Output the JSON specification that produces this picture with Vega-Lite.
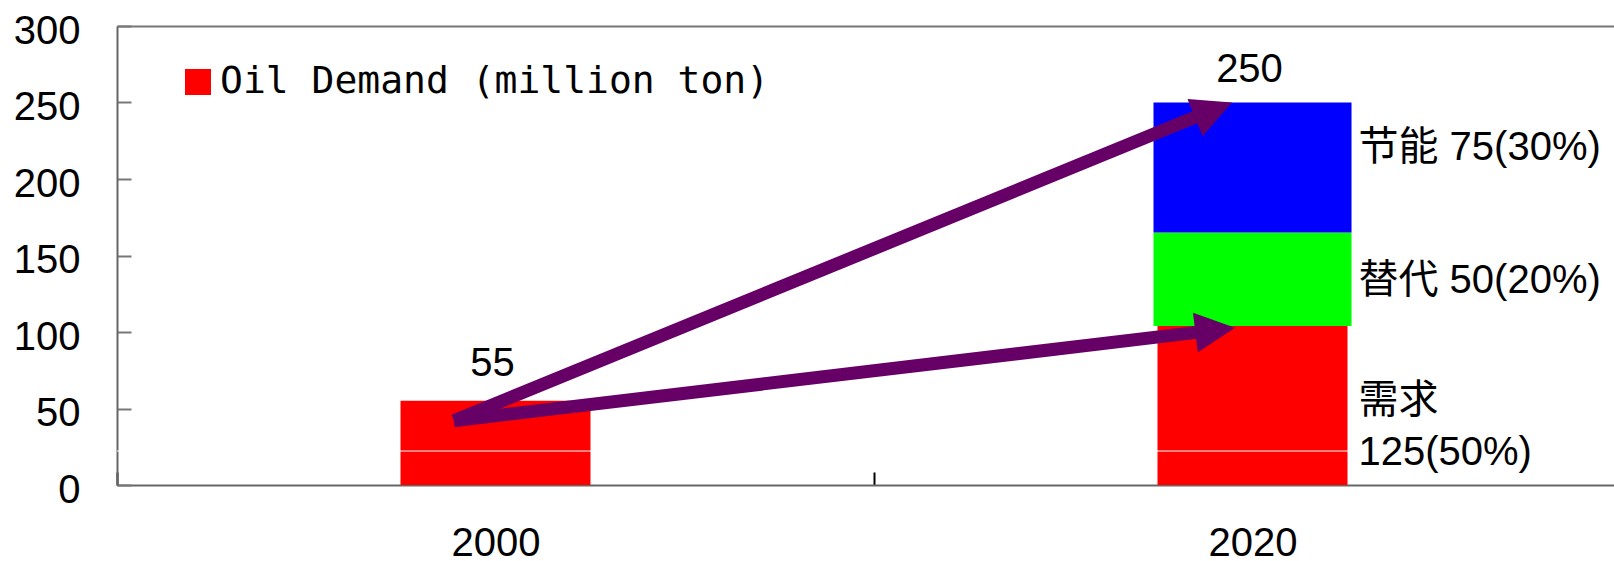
{
  "$schema": "https://vega.github.io/schema/vega-lite/v6.json",
  "autosize": "none",
  "padding": {"left": 117, "top": 26, "right": 0, "bottom": 76},
  "width": 1497,
  "height": 459,
  "background": "white",
  "config": {"view": {"stroke": null}, "axis": {"zindex": 1}},
  "datasets": {
    "bars": [
      {"year": "2000", "series": "Oil Demand (million ton)", "lo": 0, "hi": 55},
      {"year": "2020", "series": "Oil Demand (million ton)", "lo": 0, "hi": 104},
      {"year": "2020", "series": "替代", "lo": 104, "hi": 165},
      {"year": "2020", "series": "节能", "lo": 165, "hi": 250}
    ],
    "labels": [
      {"year": "2000", "ly": 71.2, "txt": "55", "grp": "top"},
      {"year": "2020", "ly": 263.4, "txt": "250", "grp": "top"},
      {"year": "2020", "ly": 212.4, "txt": "节能 75(30%)", "grp": "side"},
      {"year": "2020", "ly": 125.5, "txt": "替代 50(20%)", "grp": "side"},
      {"year": "2020", "ly": 47.1, "txt": "需求", "grp": "side"},
      {"year": "2020", "ly": 13.1, "txt": "125(50%)", "grp": "side"}
    ],
    "arrows": [
      {"arrow": "a", "ax": 0.445, "ay": 42, "part": "line"},
      {"arrow": "a", "ax": 1.436, "ay": 242.8, "part": "line"},
      {"arrow": "a", "ax": 1.473, "ay": 250, "part": "tip"},
      {"arrow": "b", "ax": 0.445, "ay": 42, "part": "line"},
      {"arrow": "b", "ax": 1.437, "ay": 100.4, "part": "line"},
      {"arrow": "b", "ax": 1.477, "ay": 102.7, "part": "tip"}
    ]
  },
  "layer": [
    {
      "layer": [
        {
          "data": {"name": "bars"},
          "transform": [{"filter": "datum.series === 'Oil Demand (million ton)'"}],
          "mark": {"type": "bar", "width": {"band": 0.251}, "strokeWidth": 0},
          "encoding": {
            "x": {
              "field": "year", "type": "nominal",
              "scale": {"range": [0, 1514], "paddingInner": 0, "paddingOuter": 0},
              "axis": {
                "title": null, "labelAngle": 0, "labelFont": "Liberation Sans", "labelFontSize": 40,
                "labelColor": "black", "labelBaseline": "alphabetic", "labelPadding": 83,
                "tickBand": "extent", "tickSize": -13, "tickColor": "black", "tickWidth": 2,
                "domainColor": "#666666", "domainWidth": 2, "grid": false
              }
            },
            "y": {
              "field": "hi", "type": "quantitative",
              "scale": {"domain": [0, 300], "nice": false},
              "axis": {
                "title": null, "values": [0, 50, 100, 150, 200, 250, 300], "grid": false,
                "tickSize": -14, "tickColor": "#777777", "tickWidth": 2,
                "domainColor": "#666666", "domainWidth": 2,
                "labelFont": "Liberation Sans", "labelFontSize": 40, "labelColor": "black",
                "labelPadding": 51, "labelBaseline": "middle", "labelOffset": 5
              }
            },
            "y2": {"field": "lo"},
            "color": {
              "field": "series", "type": "nominal",
              "scale": {"domain": ["Oil Demand (million ton)", "替代", "节能"], "range": ["#ff0000", "#00ff00", "#0000ff"]},
              "legend": {
                "values": ["Oil Demand (million ton)"], "orient": "none", "legendX": 62, "legendY": 37,
                "title": null, "symbolType": "square", "symbolSize": 676, "symbolStrokeWidth": 0,
                "symbolOpacity": 1, "labelFont": "DejaVu Sans Mono", "labelFontSize": 38,
                "labelColor": "black", "labelOffset": 3, "padding": 0, "labelLimit": 0
              }
            }
          }
        },
        {
          "data": {"name": "bars"},
          "transform": [{"filter": "datum.series !== 'Oil Demand (million ton)'"}],
          "mark": {"type": "bar", "width": {"band": 0.2616}, "strokeWidth": 0},
          "encoding": {
            "x": {"field": "year", "type": "nominal"},
            "y": {"field": "hi", "type": "quantitative", "scale": {"domain": [0, 300], "nice": false}},
            "y2": {"field": "lo"},
            "color": {"field": "series", "type": "nominal"}
          }
        },
        {
          "data": {"values": [{"v": 22.2}]},
          "mark": {"type": "rule", "color": "white", "strokeWidth": 1},
          "encoding": {"y": {"field": "v", "type": "quantitative", "scale": {"domain": [0, 300], "nice": false}}}
        },
        {
          "data": {"name": "labels"},
          "transform": [{"filter": "datum.grp === 'top'"}],
          "mark": {"type": "text", "align": "center", "baseline": "alphabetic", "dx": -3, "font": "Liberation Sans", "fontSize": 40, "color": "black"},
          "encoding": {
            "x": {"field": "year", "type": "nominal"},
            "y": {"field": "ly", "type": "quantitative", "scale": {"domain": [0, 300], "nice": false}},
            "text": {"field": "txt"}
          }
        },
        {
          "data": {"name": "labels"},
          "transform": [{"filter": "datum.grp === 'side'"}],
          "mark": {"type": "text", "align": "left", "baseline": "alphabetic", "dx": 106, "font": "Liberation Sans, Noto Sans CJK SC", "fontSize": 40, "color": "black"},
          "encoding": {
            "x": {"field": "year", "type": "nominal"},
            "y": {"field": "ly", "type": "quantitative", "scale": {"domain": [0, 300], "nice": false}},
            "text": {"field": "txt"}
          }
        }
      ]
    },
    {
      "data": {"name": "arrows"},
      "layer": [
        {
          "transform": [{"filter": "datum.part === 'line'"}],
          "mark": {"type": "line", "color": "#660066", "strokeWidth": 13, "strokeCap": "butt"},
          "encoding": {
            "x": {
              "field": "ax", "type": "quantitative",
              "scale": {"domain": [0, 2], "range": [0, 1514], "nice": false, "zero": false},
              "axis": {"orient": "top", "labels": false, "ticks": false, "title": null, "grid": false, "domainColor": "#777777", "domainWidth": 2}
            },
            "y": {"field": "ay", "type": "quantitative", "scale": {"domain": [0, 300], "nice": false}},
            "detail": {"field": "arrow"}
          }
        },
        {
          "transform": [{"filter": "datum.part === 'tip' && datum.arrow === 'a'"}],
          "mark": {"type": "point", "shape": "M0,0L-2,-1L-2,1Z", "size": 1600, "angle": -22.2, "filled": true, "color": "#660066", "opacity": 1, "strokeWidth": 0},
          "encoding": {
            "x": {"field": "ax", "type": "quantitative"},
            "y": {"field": "ay", "type": "quantitative", "scale": {"domain": [0, 300], "nice": false}}
          }
        },
        {
          "transform": [{"filter": "datum.part === 'tip' && datum.arrow === 'b'"}],
          "mark": {"type": "point", "shape": "M0,0L-2,-1L-2,1Z", "size": 1600, "angle": -6.8, "filled": true, "color": "#660066", "opacity": 1, "strokeWidth": 0},
          "encoding": {
            "x": {"field": "ax", "type": "quantitative"},
            "y": {"field": "ay", "type": "quantitative", "scale": {"domain": [0, 300], "nice": false}}
          }
        }
      ]
    }
  ],
  "resolve": {"scale": {"x": "independent"}}
}
